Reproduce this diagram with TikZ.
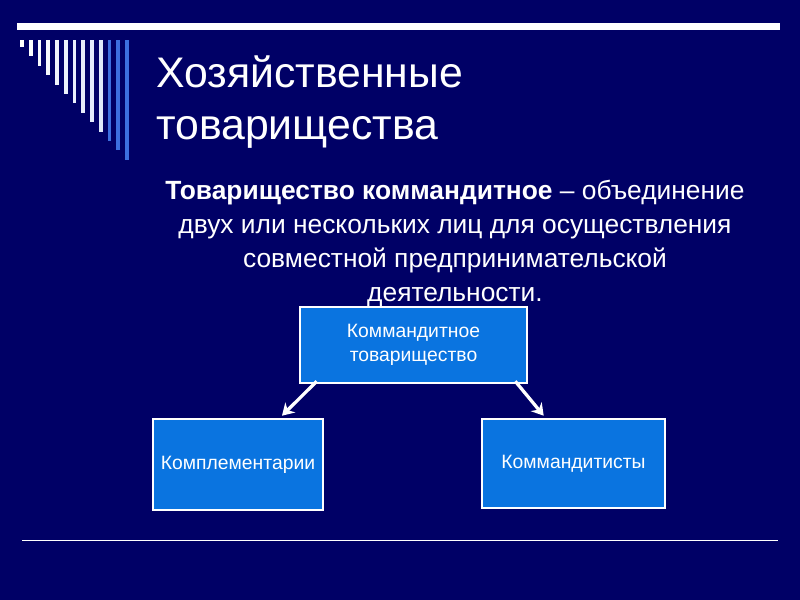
\documentclass[tikz,border=0pt]{standalone}
\usepackage{fontspec}
\setmainfont{Liberation Sans}
\usetikzlibrary{arrows.meta,positioning,calc}
\definecolor{slidebg}{HTML}{000066}
\definecolor{boxblue}{HTML}{0A74E0}
\definecolor{stripeblue}{HTML}{3C6FE0}
\tikzset{
  orgbox/.style={draw=white, line width=2.2pt, fill=boxblue, text=white,
    font=\fontsize{16.5}{21}\selectfont, align=center, inner sep=0pt},
  link/.style={draw=white, line width=2.8pt, -{Stealth[length=10pt,width=12pt]}}
}
\begin{document}
\begin{tikzpicture}[x=0.03cm, y=-0.03cm]
        \useasboundingbox (0,0) rectangle (800,600);
        \fill[slidebg] (0,0) rectangle (800,600);

        % Top rule and stripes
        \fill[white] (17,23) rectangle (780,30);
        \foreach \i in {0,...,12} {
            \pgfmathsetmacro{\xx}{22+8.75*\i}
            \pgfmathsetmacro{\yy}{47+9.4*\i}
            \ifnum\i>9 \def\stc{stripeblue}\else\def\stc{white!\the\numexpr100-3*\i\relax!stripeblue!60!white}\fi
            \fill[\stc] (\xx-1.8,40) rectangle (\xx+1.8,\yy);
        }
        % Bottom rule
        \draw[white, line width=0.6pt] (22,540) -- (778,540);

        % Title
        \node[anchor=west, text=white, align=left,
              font=\fontsize{36.5}{45}\selectfont] (title) at (152,102)
              {Хозяйственные\\товарищества};

        % Definition
        \node[text=white, align=center, font=\fontsize{22.5}{29}\selectfont] (defn) at (455,243)
              {\textbf{Товарищество коммандитное} – объединение\\
               двух или нескольких лиц для осуществления\\
               совместной предпринимательской\\
               деятельности.};

        % Boxes
        \node[orgbox, minimum width=227*0.03cm, minimum height=76*0.03cm] (kt) at (413.5,345)
              {Коммандитное\\товарищество};
        \node[orgbox, minimum width=170*0.03cm, minimum height=91*0.03cm] (compl) at (238,464.5)
              {Комплементарии};
        \node[orgbox, minimum width=183*0.03cm, minimum height=89*0.03cm] (comm) at (573.5,463.5)
              {Коммандитисты};

        % Arrows
        \draw[link] ($(kt.south west)+(18,-3)$) -- ($(compl.north)+(44,-2)$);
        \draw[link] ($(kt.south east)+(-13,-3)$) -- ($(comm.north west)+(63,-2)$);
\end{tikzpicture}
\end{document}
